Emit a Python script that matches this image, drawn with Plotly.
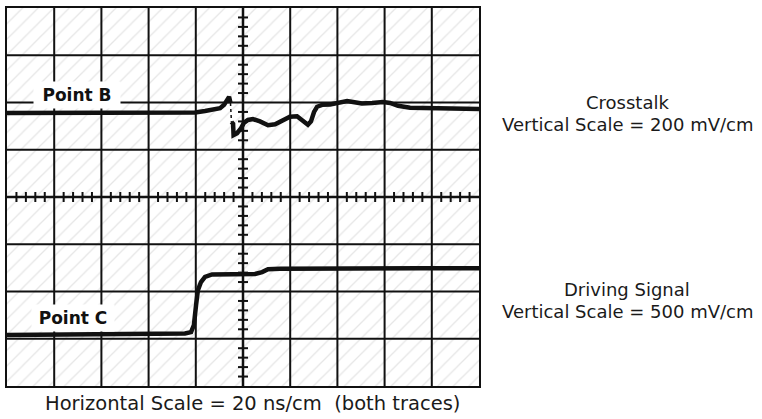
import plotly.graph_objects as go

# Screen: 10 horizontal divisions (20 ns/cm), 8 vertical divisions
X_DIVS = 10
Y_DIVS = 8
NS_PER_DIV = 20
MINOR_PER_DIV = 5

# Crosstalk trace at point B (time in ns, level in screen divisions)
b_time = [0, 22.5, 47.9, 64.8, 79.7, 83.9, 87.3, 90.3, 92.0, 93.2, 94.1, 94.7]
b_level = [5.78, 5.78, 5.77, 5.78, 5.79, 5.82, 5.84, 5.88, 5.95, 6.07, 6.12, 5.99]
b_fast_time = [94.7, 95.1]
b_fast_level = [5.99, 5.59]
b_tail_time = [95.1, 95.8, 96.0, 97.5, 99.2, 100.4, 102.1, 104.2, 107.2, 110.6,
               113.6, 116.5, 119.9, 122.9, 125.4, 127.5, 128.8, 130.1, 131.4,
               133.5, 136.9, 141.1, 144.1, 146.6, 150.4, 154.7, 159.3, 162.3,
               165.7, 170.8, 179.2, 189.8, 200]
b_tail_level = [5.59, 5.55, 5.31, 5.35, 5.46, 5.57, 5.63, 5.65, 5.60, 5.52,
                5.54, 5.62, 5.70, 5.71, 5.62, 5.53, 5.60, 5.80, 5.91,
                5.95, 5.96, 5.99, 6.03, 6.01, 5.98, 5.99, 6.01, 5.99,
                5.93, 5.89, 5.88, 5.87, 5.86]

# Driving signal at point C
c_time = [0, 22.5, 47.9, 60.6, 75.4, 78.0, 79.2, 80.1, 80.9, 82.2, 83.9, 86.9,
          98.7, 105.1, 108.1, 110.6, 115.7, 136.9, 158.1, 175.0, 200]
c_level = [1.08, 1.09, 1.10, 1.10, 1.11, 1.14, 1.29, 1.71, 2.03, 2.20, 2.31, 2.36,
           2.37, 2.37, 2.41, 2.47, 2.48, 2.49, 2.48, 2.49, 2.49]

x_max = X_DIVS * NS_PER_DIV
x_mid = x_max / 2
y_mid = Y_DIVS / 2

INK = "#111111"

fig = go.Figure()

# faint graticule texture
fig.add_trace(go.Bar(
    x=[x_mid], y=[Y_DIVS], base=[0], width=[x_max],
    marker=dict(color="white", line_width=0,
                pattern=dict(shape="/", fgcolor="#cdcdcd", bgcolor="white",
                             size=11, solidity=0.12)),
    hoverinfo="skip", showlegend=False,
))

fig.add_trace(go.Scatter(x=b_time, y=b_level, mode="lines",
                         line=dict(color=INK, width=4.5), showlegend=False))
fig.add_trace(go.Scatter(x=b_fast_time, y=b_fast_level, mode="lines",
                         line=dict(color=INK, width=1.5, dash="dot"), showlegend=False))
fig.add_trace(go.Scatter(x=b_tail_time, y=b_tail_level, mode="lines",
                         line=dict(color=INK, width=4.5), showlegend=False))
fig.add_trace(go.Scatter(x=c_time, y=c_level, mode="lines",
                         line=dict(color=INK, width=4.5), showlegend=False))

shapes = []
# graticule: one line per division
for i in range(1, X_DIVS):
    xv = i * NS_PER_DIV
    shapes.append(dict(type="line", layer="above", xref="x", yref="y",
                       x0=xv, x1=xv, y0=0, y1=Y_DIVS,
                       line=dict(color=INK, width=2.5 if xv == x_mid else 2)))
for j in range(1, Y_DIVS):
    shapes.append(dict(type="line", layer="above", xref="x", yref="y",
                       x0=0, x1=x_max, y0=j, y1=j,
                       line=dict(color=INK, width=2.5 if j == y_mid else 2)))

# minor ticks on the centre cross-hair
step_x = NS_PER_DIV / MINOR_PER_DIV
for k in range(1, X_DIVS * MINOR_PER_DIV):
    if k % MINOR_PER_DIV == 0:
        continue
    shapes.append(dict(type="line", layer="above", xref="x", yref="y",
                       x0=k * step_x, x1=k * step_x,
                       ysizemode="pixel", yanchor=y_mid, y0=-5, y1=5,
                       line=dict(color=INK, width=2)))
for k in range(1, Y_DIVS * MINOR_PER_DIV):
    if k % MINOR_PER_DIV == 0:
        continue
    yv = k / MINOR_PER_DIV
    shapes.append(dict(type="line", layer="above", xref="x", yref="y",
                       y0=yv, y1=yv,
                       xsizemode="pixel", xanchor=x_mid, x0=-5, x1=5,
                       line=dict(color=INK, width=2)))

TEXT_FONT = dict(family="DejaVu Sans", size=18, color="#1a1a1a")
FOOT_FONT = dict(family="DejaVu Sans", size=19.5, color="#1a1a1a")
LABEL_FONT = dict(family="DejaVu Sans", size=17, color="#111111", weight="bold")

side = dict(xref="paper", yref="paper", showarrow=False,
            xanchor="center", yanchor="middle", font=TEXT_FONT)
annotations = [
    dict(x=29.8, y=6.16, xref="x", yref="y", text="Point B", showarrow=False,
         font=LABEL_FONT, bgcolor="white", width=84, height=24,
         xanchor="center", yanchor="middle"),
    dict(x=28.0, y=1.43, xref="x", yref="y", text="Point C", showarrow=False,
         font=LABEL_FONT, bgcolor="white", width=80, height=24,
         xanchor="center", yanchor="middle"),
    dict(side, x=1.3136, y=0.7513, text="Crosstalk"),
    dict(side, x=1.3136, y=0.6931, text="Vertical Scale = 200 mV/cm"),
    dict(side, x=1.3136, y=0.2540, text="Driving Signal"),
    dict(side, x=1.3136, y=0.1958, text="Vertical Scale = 500 mV/cm"),
    dict(side, x=0.5195, y=-0.0476, font=FOOT_FONT,
         text="Horizontal Scale = 20 ns/cm  (both traces)"),
]

fig.update_layout(
    width=762, height=419,
    margin=dict(l=7, r=283, t=8, b=33),
    paper_bgcolor="white", plot_bgcolor="white",
    showlegend=False,
    shapes=shapes,
    annotations=annotations,
    bargap=0,
    xaxis=dict(range=[0, x_max], showticklabels=False, ticks="", showgrid=False,
               zeroline=False, showline=True, linecolor=INK, linewidth=2,
               mirror=True, fixedrange=True, layer="above traces"),
    yaxis=dict(range=[0, Y_DIVS], showticklabels=False, ticks="", showgrid=False,
               zeroline=False, showline=True, linecolor=INK, linewidth=2,
               mirror=True, fixedrange=True, layer="above traces"),
)

fig.write_html("out.html")
